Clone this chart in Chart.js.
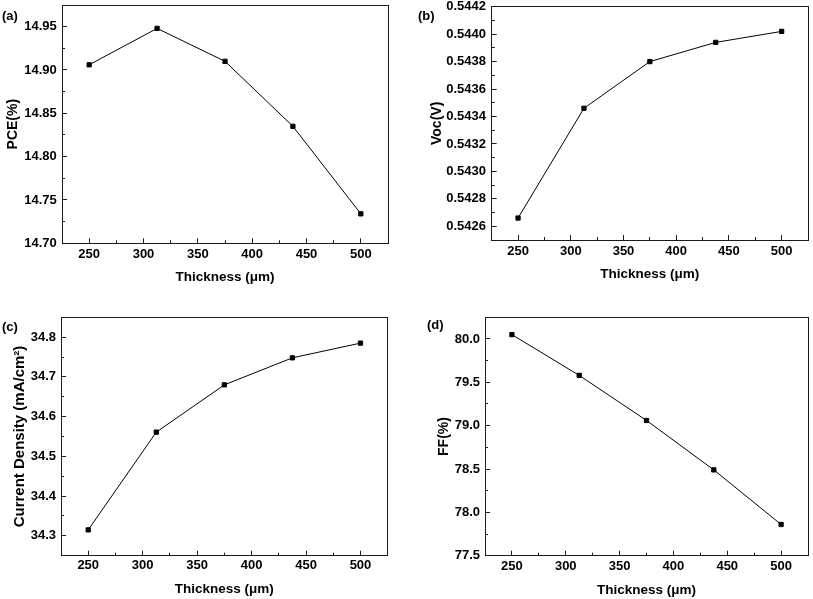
<!DOCTYPE html>
<html><head><meta charset="utf-8">
<script src="https://cdn.jsdelivr.net/npm/chart.js@4/dist/chart.umd.min.js"></script>
<style>
html,body{margin:0;padding:0;background:#fff;}
#wrap{position:relative;width:813px;height:599px;overflow:hidden;background:#fff;}
canvas{position:absolute;}
.lbl{position:absolute;font:bold 13px 'Liberation Sans',Arial,sans-serif;line-height:15px;color:#000;white-space:nowrap;}
</style></head><body>
<div id="wrap">
<canvas id="ca" width="400" height="300" style="left:0;top:0"></canvas>
<canvas id="cb" width="413" height="300" style="left:400px;top:0"></canvas>
<canvas id="cc" width="400" height="299" style="left:0;top:300px"></canvas>
<canvas id="cd" width="413" height="299" style="left:400px;top:300px"></canvas>
<div class="lbl" style="left:2px;top:8px">(a)</div>
<div class="lbl" style="left:418px;top:8px">(b)</div>
<div class="lbl" style="left:2px;top:319px">(c)</div>
<div class="lbl" style="left:427px;top:317px">(d)</div>
</div>
<script>
// ---- data ----
const thickness = [250, 312.5, 375, 437.5, 500];
const pce = [14.906, 14.948, 14.910, 14.835, 14.734];
const voc = [0.54266, 0.54346, 0.54380, 0.54394, 0.54402];
const jsc = [34.315, 34.561, 34.680, 34.748, 34.785];
const ff  = [80.05, 79.58, 79.06, 78.49, 77.86];

// ---- tick labels ----
const xMajorTicks = [250, 300, 350, 400, 450, 500];
const xMinorTicks = [275, 325, 375, 425, 475];
const pceTicks = [14.70, 14.75, 14.80, 14.85, 14.90, 14.95];
const pceMinor = [14.725, 14.775, 14.825, 14.875, 14.925];
const vocTicks = [0.5426, 0.5428, 0.5430, 0.5432, 0.5434, 0.5436, 0.5438, 0.5440, 0.5442];
const vocMinor = [0.5427, 0.5429, 0.5431, 0.5433, 0.5435, 0.5437, 0.5439, 0.5441];
const jscTicks = [34.3, 34.4, 34.5, 34.6, 34.7, 34.8];
const jscMinor = [34.35, 34.45, 34.55, 34.65, 34.75];
const ffTicks = [77.5, 78.0, 78.5, 79.0, 79.5, 80.0];
const ffMinor = [77.75, 78.25, 78.75, 79.25, 79.75];

const FONT = "'Liberation Sans', Arial, Helvetica, sans-serif";
const INK = '#000';
const FRAME = '#1a1a1a';
const tickFont = {family: FONT, size: 13, weight: 'bold'};
const xTitleFont = {family: FONT, size: 13.5, weight: 'bold'};

function fixSize(prop, v) {
  return s => { s[prop] = v; s.paddingLeft = 0; s.paddingRight = 0; s.paddingTop = 0; s.paddingBottom = 0; };
}
function setTicks(arr) { return s => { s.ticks = arr.map(v => ({value: v})); }; }

function makePanel(id, p) {
  new Chart(document.getElementById(id), {
    type: 'line',
    data: {
      datasets: [{
        data: thickness.map((t, i) => ({x: t, y: p.values[i]})),
        xAxisID: 'x', yAxisID: 'y',
        borderColor: INK, borderWidth: 1, tension: 0, fill: false,
        pointStyle: 'rect', pointRadius: 3, pointBorderWidth: 1,
        pointBackgroundColor: INK, pointBorderColor: INK
      }]
    },
    options: {
      responsive: false, animation: false, devicePixelRatio: 1,
      layout: {padding: {left: 0, top: p.top, right: p.right, bottom: 0}},
      plugins: {legend: {display: false}, tooltip: {enabled: false}, title: {display: false}},
      scales: {
        x: {
          type: 'linear', position: 'bottom', min: 225, max: 525, weight: 0,
          afterBuildTicks: setTicks(xMajorTicks), afterFit: fixSize('height', p.xh),
          grid: {drawOnChartArea: false, drawTicks: true, tickLength: -5, tickColor: FRAME, tickWidth: 1},
          border: {display: true, color: FRAME, width: 1},
          ticks: {padding: p.xtp, color: INK, font: tickFont, maxRotation: 0, autoSkip: false, callback: v => String(v)},
          title: {display: true, text: 'Thickness (μm)', color: INK, font: xTitleFont, padding: {top: 0, bottom: p.xtitle}}
        },
        xMinor: {
          type: 'linear', position: 'bottom', min: 225, max: 525, weight: -1,
          afterBuildTicks: setTicks(xMinorTicks), afterFit: fixSize('height', 0),
          grid: {drawOnChartArea: false, drawTicks: true, tickLength: -3, tickColor: FRAME, tickWidth: 1},
          border: {display: false}, ticks: {display: false}
        },
        xTop: {
          type: 'linear', position: 'top', min: 225, max: 525,
          afterFit: fixSize('height', 0),
          grid: {drawOnChartArea: false, drawTicks: false},
          border: {display: true, color: FRAME, width: 1}, ticks: {display: false}
        },
        y: {
          type: 'linear', position: 'left', min: p.min, max: p.max, weight: 0,
          afterBuildTicks: setTicks(p.major), afterFit: fixSize('width', p.L),
          grid: {drawOnChartArea: false, drawTicks: true, tickLength: -5, tickColor: FRAME, tickWidth: 1},
          border: {display: true, color: FRAME, width: 1},
          ticks: {padding: p.ytp, color: INK, font: tickFont, autoSkip: false, callback: v => Number(v).toFixed(p.dec)},
          title: {display: true, text: p.title, color: INK, font: {family: FONT, size: p.tsize, weight: 'bold'}, padding: {top: p.ytitle, bottom: 0}}
        },
        yMinor: {
          type: 'linear', position: 'left', min: p.min, max: p.max, weight: -1,
          afterBuildTicks: setTicks(p.minor), afterFit: fixSize('width', 0),
          grid: {drawOnChartArea: false, drawTicks: true, tickLength: -3, tickColor: FRAME, tickWidth: 1},
          border: {display: false}, ticks: {display: false}
        },
        yRight: {
          type: 'linear', position: 'right', min: p.min, max: p.max,
          afterFit: fixSize('width', 0),
          grid: {drawOnChartArea: false, drawTicks: false},
          border: {display: true, color: FRAME, width: 1}, ticks: {display: false}
        }
      }
    }
  });
}

makePanel('ca', {values: pce, min: 14.70, max: 14.975, major: pceTicks, minor: pceMinor, dec: 2, title: 'PCE(%)', tsize: 14,
  top: 5, right: 12, L: 62, xh: 56.7, xtp: 8.2, ytp: 10.3, xtitle: 14.2, ytitle: 5});
makePanel('cb', {values: voc, min: 0.5425, max: 0.5442, major: vocTicks, minor: vocMinor, dec: 4, title: 'Voc(V)', tsize: 14,
  top: 6.7, right: 4, L: 91.7, xh: 60, xtp: 8.9, ytp: 10.7, xtitle: 17.9, ytitle: 28.3});
makePanel('cc', {values: jsc, min: 34.25, max: 34.85, major: jscTicks, minor: jscMinor, dec: 1, title: 'Current Density (mA/cm²)', tsize: 15,
  top: 17.3, right: 12.3, L: 61, xh: 43.3, xtp: 6.5, ytp: 10, xtitle: 1.9, ytitle: 10.5});
makePanel('cd', {values: ff, min: 77.5, max: 80.25, major: ffTicks, minor: ffMinor, dec: 1, title: 'FF(%)', tsize: 14,
  top: 17.3, right: 2, L: 85, xh: 43.3, xtp: 8.2, ytp: 10, xtitle: 0.3, ytitle: 35.4});
</script>
</body></html>
